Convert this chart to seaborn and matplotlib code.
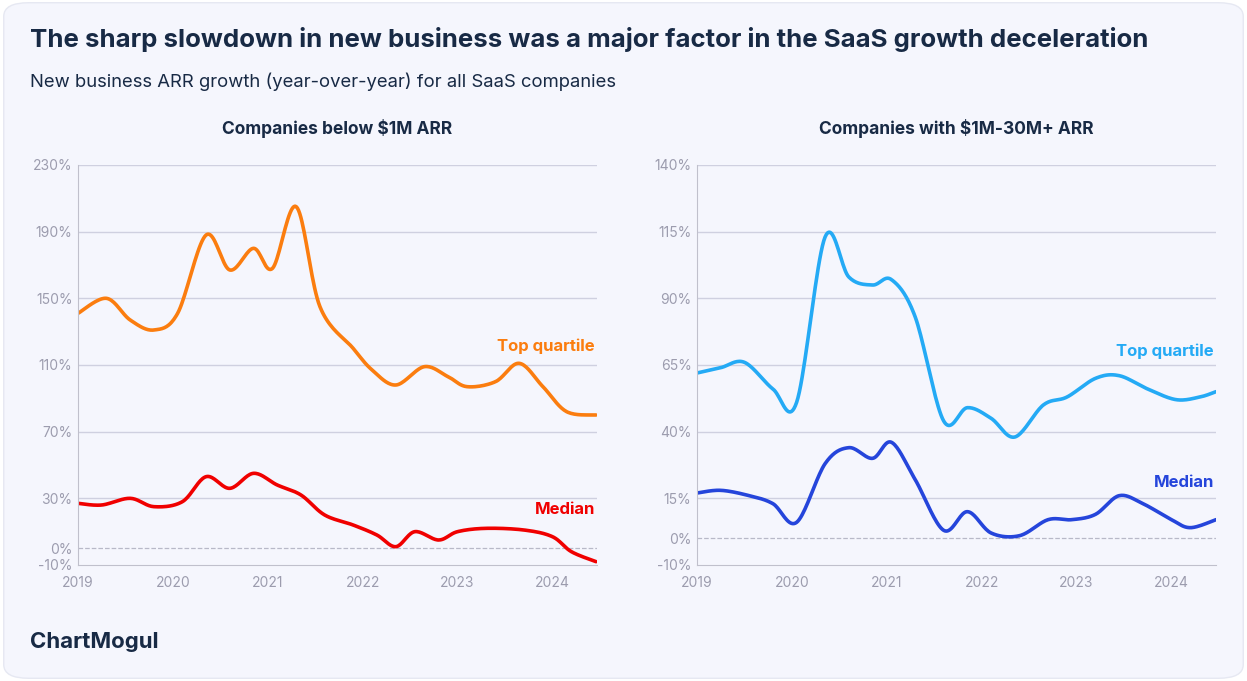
import numpy as np
import matplotlib.pyplot as plt
import seaborn as sns
from matplotlib.patches import FancyBboxPatch

# data (fractional years, % growth)
left_years_top = [2019.0, 2019.3, 2019.55, 2019.8, 2020.05, 2020.35, 2020.6, 2020.85, 2021.05, 2021.3,
                  2021.55, 2021.9, 2022.1, 2022.35, 2022.65, 2022.9, 2023.1, 2023.4, 2023.65, 2023.9, 2024.15, 2024.46]
left_top = [141, 150, 137, 131, 141, 188, 167, 180, 168, 205, 145, 120, 107, 98, 109, 103, 97, 100, 111, 97, 82, 80]
left_years_med = [2019.0, 2019.25, 2019.55, 2019.8, 2020.1, 2020.35, 2020.6, 2020.85, 2021.1, 2021.35, 2021.6,
                  2021.9, 2022.15, 2022.35, 2022.55, 2022.8, 2023.0, 2023.3, 2023.7, 2024.0, 2024.2, 2024.46]
left_med = [27, 26, 30, 25, 28, 43, 36, 45, 38, 32, 20, 14, 8, 1, 10, 5, 10, 12, 11, 7, -2, -8]

right_years_top = [2019.0, 2019.25, 2019.5, 2019.8, 2020.05, 2020.35, 2020.6, 2020.85, 2021.05, 2021.3, 2021.6,
                   2021.85, 2022.1, 2022.35, 2022.65, 2022.9, 2023.2, 2023.45, 2023.75, 2024.05, 2024.3, 2024.47]
right_top = [62, 64, 66, 56, 51, 113, 98, 95, 97, 83, 44, 49, 45, 38, 50, 53, 60, 61, 56, 52, 53, 55]
right_years_med = [2019.0, 2019.25, 2019.55, 2019.8, 2020.05, 2020.35, 2020.6, 2020.85, 2021.05, 2021.3, 2021.6,
                   2021.85, 2022.1, 2022.4, 2022.7, 2022.95, 2023.2, 2023.45, 2023.7, 2024.0, 2024.2, 2024.47]
right_med = [17, 18, 16, 13, 6, 28, 34, 30, 36, 22, 3, 10, 2, 1, 7, 7, 9, 16, 13, 7, 4, 7]

left_ticks = [-10, 0, 30, 70, 110, 150, 190, 230]
right_ticks = [-10, 0, 15, 40, 65, 90, 115, 140]
year_ticks = [2019, 2020, 2021, 2022, 2023, 2024]


def smooth(x, y, n=20):
    # catmull-rom curve through the points, just for drawing a smooth line
    x = np.asarray(x, float); y = np.asarray(y, float)
    px = np.r_[x[0], x, x[-1]]; py = np.r_[y[0], y, y[-1]]
    xs, ys = [], []
    t = np.linspace(0, 1, n, endpoint=False)
    for i in range(1, len(px) - 2):
        for p, out in ((px, xs), (py, ys)):
            p0, p1, p2, p3 = p[i - 1], p[i], p[i + 1], p[i + 2]
            out.extend(0.5 * (2 * p1 + (-p0 + p2) * t + (2 * p0 - 5 * p1 + 4 * p2 - p3) * t ** 2
                              + (-p0 + 3 * p1 - 3 * p2 + p3) * t ** 3))
    xs.append(x[-1]); ys.append(y[-1])
    return np.array(xs), np.array(ys)


sns.set_style("white")
plt.rcParams['font.family'] = ['Inter', 'DejaVu Sans']

W, H = 1247, 681
fig = plt.figure(figsize=(W / 100, H / 100), dpi=100)
fig.patch.set_facecolor('white')
card = FancyBboxPatch((0.003, 0.004), 0.994, 0.992, boxstyle="round,pad=0,rounding_size=0.02",
                      transform=fig.transFigure, facecolor='#f5f6fd', edgecolor='#e6e8f2', lw=1, zorder=-10)
fig.add_artist(card)

navy = '#182a45'
grey = '#9c9cae'
fig.text(30 / W, 1 - 40 / H, "The sharp slowdown in new business was a major factor in the SaaS growth deceleration",
         fontsize=18.6, fontweight='bold', color=navy, va='center')
fig.text(30 / W, 1 - 82 / H, "New business ARR growth (year-over-year) for all SaaS companies",
         fontsize=13.3, color=navy, va='center')
fig.text(30 / W, 1 - 642 / H, "ChartMogul", fontsize=16, fontweight='bold', color=navy, va='center')


def panel(x0, x1, title, ticks, series):
    ax = fig.add_axes([x0 / W, 1 - 565 / H, (x1 - x0) / W, 400 / H])
    ax.set_facecolor('none')
    for xs, ys, color, label, ly in series:
        sx, sy = smooth(xs, ys)
        sns.lineplot(x=sx, y=sy, ax=ax, color=color, lw=2.6, sort=False, estimator=None)
        ax.text(2024.45, ly, label, color=color, fontsize=12, fontweight='bold', ha='right', va='center')
    ax.set_ylim(ticks[0], ticks[-1])
    ax.set_xlim(2019, 2024.47)
    ax.set_yticks(ticks)
    ax.set_yticklabels([f"{t}%" for t in ticks])
    ax.set_xticks(year_ticks)
    for t in ticks[2:]:
        ax.axhline(t, color='#cfd0e0', lw=1, zorder=0)
    ax.axhline(0, color='#b8b9c8', lw=0.9, ls='--', zorder=0)
    ax.tick_params(colors=grey, labelsize=10, length=0, pad=4)
    ax.tick_params(axis='x', length=4, color='#c0c0cc')
    for s in ('top', 'right'):
        ax.spines[s].set_visible(False)
    for s in ('left', 'bottom'):
        ax.spines[s].set_color('#c0c0cc')
    ax.set_title(title, fontsize=12.5, fontweight='bold', color=navy, pad=22)
    return ax


panel(78, 597, "Companies below $1M ARR", left_ticks, [
    (left_years_top, left_top, '#fb7d0f', 'Top quartile', 121),
    (left_years_med, left_med, '#f00000', 'Median', 23)])
panel(697, 1216, "Companies with $1M-30M+ ARR", right_ticks, [
    (right_years_top, right_top, '#24aaf5', 'Top quartile', 70),
    (right_years_med, right_med, '#2545db', 'Median', 21)])

fig.savefig('out.png', dpi=100, facecolor=fig.get_facecolor())
